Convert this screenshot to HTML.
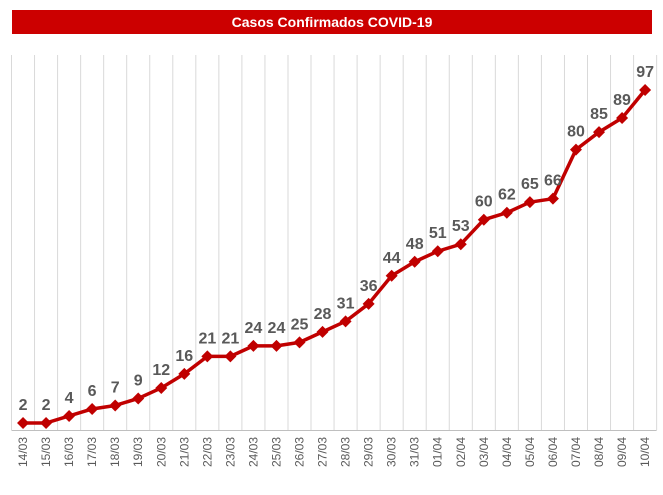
<!DOCTYPE html>
<html><head><meta charset="utf-8"><style>
body{margin:0;background:#fff;width:663px;height:490px;overflow:hidden;font-family:"Liberation Sans",sans-serif}
</style></head><body>
<svg width="663" height="490">
<rect x="12" y="10" width="640" height="24" fill="#cc0000"/>
<text x="332" y="27" text-anchor="middle" fill="#fff" font-weight="bold" font-size="14">Casos Confirmados COVID-19</text>
<g id="grid"></g><g id="line"></g><g id="labels"></g>
</svg>
<script>
const categories=["14/03","15/03","16/03","17/03","18/03","19/03","20/03","21/03","22/03","23/03","24/03","25/03","26/03","27/03","28/03","29/03","30/03","31/03","01/04","02/04","03/04","04/04","05/04","06/04","07/04","08/04","09/04","10/04"];
const values=[2,2,4,6,7,9,12,16,21,21,24,24,25,28,31,36,44,48,51,53,60,62,65,66,80,85,89,97];
const NS="http://www.w3.org/2000/svg";
const x0=11.5,step=23.04,yBase=430,yTop=55,perUnit=3.505;
const xs=i=>x0+step*(i+0.5);
const ys=v=>yBase-v*perUnit;
function mk(t,a,p){const e=document.createElementNS(NS,t);for(const k in a)e.setAttribute(k,a[k]);p.appendChild(e);return e;}
const g=document.getElementById('grid'),l=document.getElementById('line'),lb=document.getElementById('labels');
for(let i=0;i<=categories.length;i++){
 const ln=mk('line',{x1:x0+step*i,x2:x0+step*i,y1:yTop,y2:yBase,stroke:'#d9d9d9','stroke-width':1},g);
 
 
}
const ax=mk('line',{x1:x0,x2:x0+step*categories.length,y1:yBase+0.5,y2:yBase+0.5,stroke:'#bfbfbf'},g);


const pl=mk('polyline',{points:values.map((v,i)=>xs(i)+','+ys(v)).join(' '),fill:'none',stroke:'#c00000','stroke-width':3.5,'stroke-linejoin':'round'},l);


values.forEach((v,i)=>{
 const x=xs(i),y=ys(v);
 const m=mk('polygon',{points:`${x},${y-6} ${x+6},${y} ${x},${y+6} ${x-6},${y}`,fill:'#c00000'},l);
 
 
 const t=mk('text',{x:x,y:y-13,'text-anchor':'middle','font-size':16,'font-weight':'bold',fill:'#595959'},lb);
 t.textContent=v;
 
 
 const c=mk('text',{x:0,y:0,'text-anchor':'end','font-size':12,fill:'#595959',transform:`translate(${x+4},${yBase+7}) rotate(-90)`},lb);
 c.textContent=categories[i];
 
 
});
</script>
</body></html>
